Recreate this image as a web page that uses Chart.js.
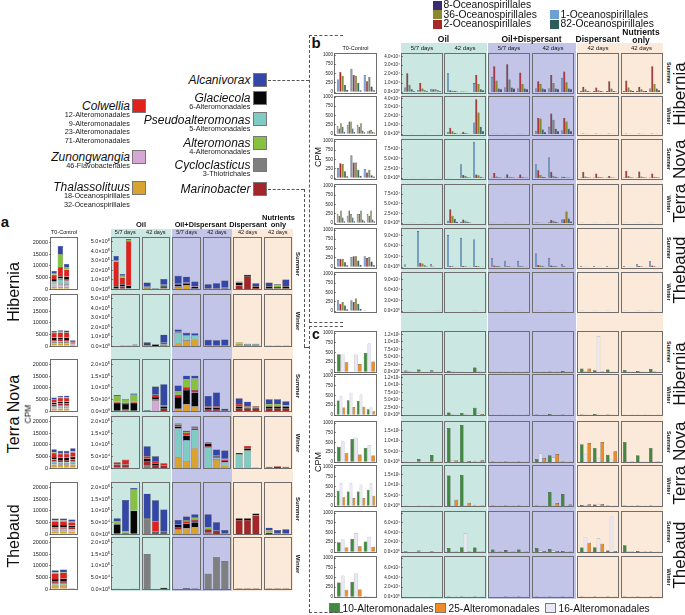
<!DOCTYPE html>
<html>
<head>
<meta charset="utf-8">
<script src="https://cdn.jsdelivr.net/npm/chart.js@4.4.0/dist/chart.umd.min.js"></script>
<style>
  body { margin: 0; background: #fff; font-family: "Liberation Sans", Arial, sans-serif; }
  #fig { position: relative; width: 685px; height: 615px; overflow: hidden; background: #fff; }
  .txt { position: absolute; white-space: nowrap; line-height: 1; color: #111; z-index: 5; }
  .band { position: absolute; z-index: 1; }
  .frame { position: absolute; box-sizing: border-box; border: 1.5px solid #6e6e6e; z-index: 2; }
  .key { position: absolute; box-sizing: border-box; border: 0.6px solid #777; z-index: 5; }
  .dash { position: absolute; z-index: 5; border: 0 dashed #555; }
</style>
</head>
<body>
<div id="fig"></div>
<script>
// ---------------------------------------------------------------
// series / colours
// ---------------------------------------------------------------
// panel a : stack order, bottom -> top
const seriesA = ['Thalassolituus', 'Zunongwangia', 'Cycloclasticus', 'Pseudoalteromonas',
                 'Marinobacter', 'Glaciecola', 'Colwellia', 'Alteromonas', 'Alcanivorax'];
const colorsA = ['#d8a32e', '#d6a7d5', '#7f7f7f', '#80cbc4', '#a3262a', '#070707', '#e0221f', '#86c23f', '#3446a6'];
// panel b : order inside a group
const seriesB = ['1-Oceanospirillales', '2-Oceanospirillales', '36-Oceanospirillales',
                 '82-Oceanospirillales', '8-Oceanospirillales'];
const colorsB = ['#6f9fd3', '#a8282a', '#8c8a2c', '#2f5e58', '#3b2b70'];
// panel c : order inside a group
const seriesC = ['10-Alteromonadales', '16-Alteromonadales', '25-Alteromonadales'];
const colorsC = ['#3f8a3f', '#ebe8f5', '#f08c25'];

// ---------------------------------------------------------------
// tick labels
// ---------------------------------------------------------------
const ticksA_T0  = ['0', '5000', '10000', '15000', '20000'];
const ticksA_Hib = ['0.0×10⁰', '1.0×10⁵', '2.0×10⁵', '3.0×10⁵', '4.0×10⁵', '5.0×10⁵'];
const ticksA_TnTh = ['0.0×10⁰', '5.0×10⁴', '1.0×10⁵', '1.5×10⁵', '2.0×10⁵'];
const ticksB_T0  = ['0', '250', '500', '750', '1000'];
const ticksB_Hib = ['0.0×10⁰', '1.0×10⁴', '2.0×10⁴', '3.0×10⁴', '4.0×10⁴'];
const ticksB_Tn  = ['0.0×10⁰', '2.5×10⁴', '5.0×10⁴', '7.5×10⁴'];
const ticksB_Th  = ['0.0×10⁰', '3.0×10⁴', '6.0×10⁴', '9.0×10⁴'];
const ticksC_Hib = ['0.0×10⁰', '2.5×10⁴', '5.0×10⁴', '7.5×10⁴', '1.0×10⁵', '1.2×10⁵'];
const ticksC_Tn  = ['0.0×10⁰', '5.0×10⁴', '1.0×10⁵', '1.5×10⁵'];
const ticksC_Th  = ['0.0×10⁰', '2.0×10⁴', '4.0×10⁴', '6.0×10⁴'];

// ---------------------------------------------------------------
// DATA
// each row: [T0, Oil 5/7, Oil 42, Oil+Disp 5/7, Oil+Disp 42, Disp 42, Nutrients 42]
// T0 in CPM (panel a: thousands), treatments in units of the axis exponent
// ---------------------------------------------------------------
// panel a bars: [Thal, Zun, Cyclo, Pseudo, Marino, Glacie, Colw, Altero, Alcani]
const aHibSummer = [
  [[1,.5,.3,1,.5,1,1.8,.5,1.1], [1,1,.5,1.5,.5,1,4,5.5,3.5], [1,.8,.3,1.5,.7,1,3,1,1.5], [0,0,0,0,0,0,0,0,0]],
  [[0,0,0,0,.1,.2,2.6,.1,.5], [0,0,0,0,.3,.2,.7,.2,.2], [.05,0,0,0,0,.3,4.7,.15,.1], [0,0,0,0,0,0,0,0,0]],
  [[.1,.1,0,0,0,.05,0,0,.45], [0,0,0,0,0,.02,0,0,.05], [.05,0,0,0,.2,.1,.1,0,.6]],
  [[.2,0,.1,0,0,.2,.1,0,.8], [.4,0,0,0,0,.2,.1,0,.6], [0,0,.1,0,0,.15,.05,0,.5]],
  [[0,0,.05,0,0,.05,0,0,.4], [0,0,.05,0,0,.05,0,0,.5], [0,0,.05,0,0,.1,0,0,.75]],
  [[0,0,0,0,.4,.3,0,0,.1], [0,0,0,0,1.3,.2,0,0,0], [0,0,0,0,.1,.2,0,0,.3]],
  [[0,0,.1,0,0,.2,0,0,.4], [0,0,.05,0,0,.15,0,.2,.1], [0,0,.1,0,0,.2,0,0,.7]]
];
const aHibWinter = [
  [[1,.3,.5,.3,.5,1,2,.3,.6], [1,.3,.5,.4,.5,1,2.1,.3,.7], [1,.3,.5,.3,.5,1,2.1,.3,.7], [.5,0,.3,0,.3,.3,.8,0,.3]],
  [[0,0,0,0,0,0,0,0,0], [0,0,0,0,0,.05,0,0,.02], [0,0,0,0,0,.05,0,0,.03], [0,0,0,0,0,.05,0,0,.1]],
  [[.1,0,0,0,0,.1,0,0,.2], [0,0,0,0,0,.15,0,0,.05], [.1,0,0,.05,.1,.1,0,0,.85]],
  [[.3,0,0,1.1,0,.05,.05,0,.25], [.6,0,0,.5,0,.05,0,0,.25], [.7,0,0,.4,0,.05,0,0,.2]],
  [[0,0,.05,0,0,.05,0,0,.55], [0,0,.05,0,0,.05,0,0,.5], [0,0,.05,0,0,.05,0,0,.6]],
  [[.2,0,0,.1,0,0,0,.1,0], [.1,0,0,.1,0,0,0,.05,0], [.1,0,0,.1,0,0,0,.05,0]],
  [[0,0,0,0,0,.03,0,0,.02], [0,0,0,0,0,.03,0,0,.02], [0,0,0,0,0,.03,0,0,.03]]
];
const aTNSummer = [
  [[1,.5,.3,.3,.8,.8,1.3,.2,.6], [1.1,.5,.3,.4,.9,.9,1.5,.2,.7], [1.1,.5,.3,.4,.9,.9,1.5,.2,.8], [0,0,0,0,0,0,0,0,0]],
  [[0,0,0,0,0,.35,.05,.25,.04], [0,0,0,0,.05,.25,.05,.15,.02], [0,0,0,0,0,.35,.05,.3,.05]],
  [[0,0,0,0,0,.02,0,0,.02], [0,.45,0,0,.05,.1,.1,0,.35], [0,0,0,0,.1,.1,.05,0,.9]],
  [[.1,0,0,0,0,.5,.1,.15,.25], [.3,0,0,0,0,.6,.12,.35,.15], [.2,0,0,0,0,.6,.1,.5,.12]],
  [[0,0,0,0,.05,.1,.05,0,.45], [0,0,0,0,.05,.1,.05,0,.6], [0,0,0,0,0,.03,0,0,.07]],
  [[0,0,0,0,.1,.1,.1,0,.25], [0,0,0,0,.1,.05,.05,0,.2], [0,0,0,0,.1,.05,.05,0,.01]],
  [[0,0,0,0,.1,.1,0,.1,.2], [0,0,0,0,.1,.1,0,.1,.2], [0,0,0,0,.1,.1,0,.05,.17]]
];
const aTNWinter = [
  [[1.5,.3,.3,.6,1,1,1.8,.3,1.3], [1.4,.3,.3,.5,.9,1,1.7,.3,1], [1.4,.3,.3,.5,.9,1,1.7,.3,1], [1.5,.3,.3,.6,1,1.1,2,.3,1.4]],
  [[0,0,0,0,.1,.05,.1,0,0], [0,0,0,0,.1,.05,.2,0,.02], [0,0,0,0,0,0,0,0,0]],
  [[0,0,.1,0,.2,.1,.1,0,.44], [0,0,0,0,.1,.1,.1,0,.2], [0,0,0,0,.1,0,.1,0,0]],
  [[.45,0,0,1.25,0,.08,.08,.04,.02], [.3,0,0,.9,0,.2,.1,.05,.05], [.85,0,0,.8,0,.05,.05,0,.03]],
  [[0,0,0,.9,.05,.1,.05,0,.02], [.35,0,.05,.05,0,.05,.05,0,.25], [.1,0,0,.15,0,.05,.05,.05,.35]],
  [[0,0,0,.6,0,.05,0,0,0], [0,0,0,.75,0,.1,.1,0,0], [0,0,0,.02,0,0,0,0,0]],
  [[0,0,0,0,0,.03,.02,0,0], [0,0,0,0,0,.04,.04,0,0], [0,0,0,0,0,.03,.02,0,0]]
];
const aThSummer = [
  [[1.2,.4,.3,.4,.6,1,1.6,.3,.9], [1.2,.4,.3,.4,.6,1,1.6,.3,.9], [1.1,.4,.3,.4,.5,.9,1.5,.2,.9]],
  [[0,0,0,0,0,.42,0,.14,.12], [0,0,0,0,0,.05,0,.06,1.35], [0,0,0,0,0,1.0,0,.93,.05]],
  [[0,0,.65,0,0,.03,0,0,1.05], [0,0,0,0,.05,.05,.45,0,.9], [0,0,0,0,.05,.05,0,0,.95]],
  [[.2,0,0,0,.1,.1,0,0,.2], [.25,0,0,0,0,.2,.1,.05,.15], [.3,0,0,0,0,.2,.1,.1,.15]],
  [[0,0,.05,0,.15,0,0,.1,.55], [0,0,0,0,.1,.05,0,0,.35], [0,0,0,0,.02,0,0,0,.15]],
  [[0,0,0,0,.6,.08,0,0,0], [0,0,0,0,.6,.08,0,0,0], [0,0,0,0,.8,.08,0,0,0]],
  [[0,0,0,0,0,.05,0,.1,.12], [0,0,0,0,0,.02,0,0,.15], [0,0,0,0,0,.02,0,0,.18]]
];
const aThWinter = [
  [[1.3,.3,.3,.4,.8,1.2,2.5,.3,1], [1.3,.3,.3,.4,.8,1.3,2.6,.3,1.1], [0,.3,0,0,0,0,0,0,0]],
  [[0,0,0,0,0,.02,0,0,0], [0,0,0,0,0,0,0,0,0], [0,0,0,0,0,.02,0,0,0]],
  [[0,0,1.5,0,0,0,0,0,0], [0,0,0,0,0,0,0,0,0], [0,0,0,0,0,.05,0,0,0]],
  [[0,0,0,0,0,0,0,0,0], [0,0,0,0,0,.03,0,0,0], [0,0,0,0,0,.02,0,0,0]],
  [[0,0,.66,0,0,0,0,0,0], [0,0,1.36,0,0,0,0,0,0], [0,0,1.2,0,0,0,0,0,0]],
  [[0,0,0,0,0,.02,0,0,0], [0,0,0,0,0,.02,0,0,0], [0,0,0,0,0,.02,0,0,0]],
  [[0,0,0,0,0,.02,0,0,0], [0,0,0,0,0,.02,0,0,0], [0,0,0,0,0,.02,0,0,0]]
];

// panel b groups: [1-, 2-, 36-, 82-, 8-Oceanospirillales]
const bHibSummer = [
  [[350,560,450,200,60], [650,470,450,250,50], [470,300,420,150,50]],
  [[.5,2.1,.8,.3,.1], [.2,1.0,.4,.2,.1], [.3,.3,.3,.2,.1]],
  [[2.1,.2,.15,.1,.05], [.05,.05,.05,.02,0], [1.0,1.9,.9,.3,.2]],
  [[1.7,2.9,1.3,.4,.3], [.5,3.1,1.4,.5,.4], [.4,2.2,.9,.4,.3]],
  [[.4,1.2,.9,.4,.3], [.4,1.9,1.0,.4,.3], [1.6,2.3,1.1,.4,.3]],
  [[.1,.6,.3,.1,.05], [.1,.5,.2,.1,.05], [.1,1.2,.4,.1,.05]],
  [[.1,1.3,.5,.2,.1], [.1,.6,.3,.1,.1], [.4,2.9,.9,.4,.2]]
];
const bHibWinter = [
  [[220,150,300,200,60], [250,350,350,150,60], [250,200,300,100,50], [80,100,120,60,40]],
  [[.02,.02,.02,.01,0], [.02,.02,.02,.01,0], [.02,.02,.02,.01,0]],
  [[.2,.7,.3,.1,.05], [.05,.25,.15,.05,0], [1.3,3.9,2.4,.8,.3]],
  [[.02,.02,.02,.01,0], [.02,.02,.02,.01,0], [.02,.02,.02,.01,0]],
  [[.3,1.8,1.75,.5,.2], [.8,2.3,1.6,.6,.3], [.4,1.8,1.4,.6,.3]],
  [[.03,.05,.03,.02,.01], [.03,.05,.03,.02,.01], [.03,.05,.03,.02,.01]],
  [[.03,.05,.03,.02,.01], [.03,.05,.03,.02,.01], [.03,.05,.03,.02,.01]]
];
const bTNSummer = [
  [[280,410,390,190,50], [630,430,430,230,60], [250,150,230,80,40]],
  [[.05,.1,.05,.03,.02], [.05,.05,.03,.02,.01], [.05,.05,.03,.02,.01]],
  [[.05,.05,.03,.02,.01], [3.6,.8,.5,.2,.1], [9.4,.9,.7,.3,.1]],
  [[.1,1.3,.4,.2,.1], [.1,1.0,.3,.2,.1], [.1,.9,.3,.1,.1]],
  [[3.6,2.0,.8,.3,.2], [5.3,1.6,.6,.3,.1], [.3,.3,.2,.1,.05]],
  [[.1,1.6,.4,.2,.1], [.1,1.2,.3,.2,.1], [.1,.5,.2,.1,.05]],
  [[.1,1.9,.5,.2,.1], [.1,1.7,.4,.2,.1], [.1,1.2,.3,.2,.1]]
];
const bTNWinter = [
  [[250,200,350,150,50], [200,350,250,150,50], [250,250,350,100,50], [250,200,350,100,50]],
  [[.05,.05,.03,.02,.01], [.05,.05,.03,.02,.01], [.05,.05,.03,.02,.01]],
  [[.6,3.6,1.9,1.1,.3], [.3,.9,.6,.3,.1], [0,0,0,0,0]],
  [[.05,.05,.03,.02,.01], [.05,.05,.03,.02,.01], [.05,.05,.03,.02,.01]],
  [[.1,.1,.05,.05,0], [.2,.8,.5,.3,.1], [.9,1.0,3.0,1.2,.4]],
  [[.05,.05,.03,.02,.01], [.05,.05,.03,.02,.01], [.05,.05,.03,.02,.01]],
  [[.05,.08,.03,.02,.01], [.05,.08,.03,.02,.01], [.05,.08,.03,.02,.01]]
];
const bThSummer = [
  [[220,230,230,130,50], [280,300,300,180,60], [300,250,280,150,50]],
  [[.7,.1,.1,.05,.05], [10.2,1.2,1.0,.5,.2], [.8,.2,.1,.1,.05]],
  [[9.1,.3,.2,.1,.1], [8.3,.3,.2,.1,.1], [7.8,.3,.2,.1,.1]],
  [[2.5,.4,.3,.2,.1], [1.8,.2,.2,.1,.05], [1.6,.2,.2,.1,.05]],
  [[3.8,.6,.4,.2,.1], [2.5,.4,.3,.2,.1], [.8,.2,.1,.1,.05]],
  [[.2,.1,.05,.05,0], [.2,.1,.05,.05,0], [.2,.1,.05,.05,0]],
  [[.2,.1,.1,.05,0], [.8,.3,.2,.1,.05], [1.6,.4,.2,.1,.1]]
];
const bThWinter = [
  [[300,200,250,150,50], [300,250,350,200,60], [20,10,10,5,5]],
  [[.05,.05,.03,.02,.01], [0,0,0,0,0], [.05,.05,.03,.02,.01]],
  [[0,0,0,0,0], [0,0,0,0,0], [.05,.05,.03,.02,.01]],
  [[0,0,0,0,0], [.05,.05,.03,.02,.01], [.05,.05,.03,.02,.01]],
  [[.05,.05,.03,.02,.01], [.05,.05,.03,.02,.01], [.05,.05,.03,.02,.01]],
  [[.05,.05,.03,.02,.01], [.05,.05,.03,.02,.01], [.05,.05,.03,.02,.01]],
  [[.05,.05,.03,.02,.01], [.05,.05,.03,.02,.01], [.05,.05,.03,.02,.01]]
];

// panel c groups: [10-, 16-, 25-Alteromonadales]
const cHibSummer = [
  [[470,465,255], [0,465,210], [500,750,280]],
  [[.5,.3,.1], [.8,.2,.1], [.6,.2,.1]],
  [[.4,.3,.1], [.1,.1,0], [1.5,.3,.1]],
  [[.1,.1,.05], [.1,.1,.05], [.1,.1,.05]],
  [[.1,.1,.05], [.15,.1,.05], [.3,.2,.1]],
  [[1.2,.3,1.2], [.6,12.0,.2], [.8,.2,.1]],
  [[.7,.2,.1], [.3,.2,.1], [1.0,.3,.1]]
];
const cHibWinter = [
  [[380,510,200], [390,590,210], [370,540,220], [150,220,100]],
  [[.1,.1,.05], [.1,.1,.05], [.1,.1,.05]],
  [[.8,.3,.1], [.7,.3,.1], [2.4,.5,.3]],
  [[.1,.1,.05], [.1,.1,.05], [.1,.1,.05]],
  [[.2,.1,.1], [.3,.1,.1], [.2,.1,.1]],
  [[.2,.2,.1], [.3,.2,.1], [.2,.2,.1]],
  [[.1,.1,.05], [.1,.1,.05], [.1,.1,.05]]
];
const cTNSummer = [
  [[400,540,240], [610,650,200], [370,440,170]],
  [[.2,.1,.1], [1.4,.1,.1], [3.4,.2,.2]],
  [[16.4,.8,.9], [17.8,.6,.5], [.3,.2,.8]],
  [[.3,.1,.1], [.2,.1,.1], [.3,.1,.1]],
  [[1.5,4.1,1.9], [3.3,2.3,3.8], [.2,.1,.1]],
  [[8.6,4.0,9.1], [6.8,2.0,9.6], [3.5,1.5,5.2]],
  [[9.7,.2,.2], [3.3,.2,.1], [6.8,.2,.2]]
];
const cTNWinter = [
  [[400,600,230], [380,600,210], [380,570,210], [430,600,270]],
  [[.2,.1,.1], [.2,.1,.1], [.2,.1,.1]],
  [[14.7,.4,3.0], [14.9,.3,1.6], [.3,.2,.2]],
  [[.2,.1,.1], [.2,.1,.1], [.2,.1,.1]],
  [[.2,.1,.1], [6.7,.2,1.4], [5.8,.3,.7]],
  [[.5,.6,.8], [.7,1.1,1.0], [.2,.1,.1]],
  [[.2,.1,.1], [.2,.1,.1], [.2,.1,.1]]
];
const cThSummer = [
  [[260,340,120], [350,500,150], [280,400,140]],
  [[.2,.1,.05], [.3,.1,.05], [.2,.1,.05]],
  [[.8,.1,.1], [1.0,3.9,.1], [.9,.2,.1]],
  [[.5,.2,.1], [.4,.2,.1], [.5,.2,.1]],
  [[.8,.3,.2], [.6,.3,.2], [.2,.1,.1]],
  [[.9,3.1,1.9], [1.0,2.8,1.7], [.3,7.3,.2]],
  [[1.4,.2,.1], [.2,.1,.1], [.1,.05,.05]]
];
const cThWinter = [
  [[380,570,190], [400,630,200], [20,20,10]],
  [[.1,.05,.05], [0,0,0], [.1,.05,.05]],
  [[.1,.05,.05], [.1,.05,.05], [.1,.05,.05]],
  [[0,0,0], [.1,.05,.05], [.1,.05,.05]],
  [[.1,.05,.05], [.1,.05,.05], [.1,.05,.05]],
  [[.1,.05,.05], [.1,.05,.05], [.1,.05,.05]],
  [[.1,.05,.05], [.1,.05,.05], [.1,.05,.05]]
];

// ---------------------------------------------------------------
// helpers
// ---------------------------------------------------------------
const fig = document.getElementById('fig');
const FONT = '"Liberation Sans", Arial, sans-serif';
const TEAL = '#cbe7e1', LAV = '#c3c5e8', PEACH = '#fbead9';

function text(str, x, y, css, anchor, rot) {
  const d = document.createElement('div');
  d.className = 'txt';
  d.textContent = str;
  d.style.cssText += css;
  d.style.left = x + 'px';
  d.style.top = y + 'px';
  const tx = anchor === 'r' ? '-100%' : anchor === 'l' ? '0' : '-50%';
  d.style.transform = 'translate(' + tx + ',-50%)' + (rot ? ' rotate(' + rot + 'deg)' : '');
  fig.appendChild(d);
}

function rect(cls, x, y, w, h, css) {
  const d = document.createElement('div');
  d.className = cls;
  d.style.cssText += 'left:' + x + 'px;top:' + y + 'px;width:' + w + 'px;height:' + h + 'px;' + (css || '');
  fig.appendChild(d);
  return d;
}

function dashH(x1, x2, y) { rect('dash', x1, y, x2 - x1, 0, 'border-top-width:1px;'); }
function dashV(x, y1, y2) { rect('dash', x, y1, 0, y2 - y1, 'border-left-width:1px;'); }

// one facet cell drawn by Chart.js
function cell(x, y, w, h, bars, series, colors, kind, scale, axisW, fs, bg) {
  rect('frame', x, y, w, h, 'background:' + bg + ';');
  const inset = 1.6;
  const cw = Math.round(w - 2 * inset + axisW);
  const ch = Math.round(h - 2 * inset + 10);
  const cv = document.createElement('canvas');
  cv.width = cw; cv.height = ch;
  cv.style.cssText = 'position:absolute;z-index:3;left:' + (x + inset - axisW) + 'px;top:' +
                     (y + inset - 5) + 'px;width:' + cw + 'px;height:' + ch + 'px;';
  fig.appendChild(cv);

  const stacked = kind === 'a';
  const datasets = series.map((s, i) => ({
    label: s,
    data: bars.map(b => b[i]),
    backgroundColor: colors[i],
    borderColor: (kind === 'c' && i === 1) ? '#8a8a8a' : '#262626',
    borderWidth: stacked ? 0.35 : 0.45,
    barPercentage: stacked ? 0.88 : 0.95,
    categoryPercentage: stacked ? 0.97 : 0.86
  }));

  new Chart(cv, {
    type: 'bar',
    data: { labels: bars.map((b, i) => String(i + 1)), datasets: datasets },
    options: {
      responsive: false,
      animation: false,
      events: [],
      layout: { padding: { top: 5, bottom: 5, left: 0, right: 0 } },
      plugins: { legend: { display: false }, tooltip: { enabled: false } },
      scales: {
        x: { display: false, stacked: stacked },
        y: {
          display: axisW > 0,
          stacked: stacked,
          min: 0,
          max: scale.max,
          afterFit: function (s) { s.width = axisW; },
          border: { display: false },
          grid: { drawOnChartArea: false, drawTicks: true, tickLength: 2, color: '#444', lineWidth: 0.6 },
          ticks: {
            stepSize: scale.step,
            includeBounds: false,
            autoSkip: false,
            padding: 1,
            color: '#222',
            font: { size: fs, family: FONT },
            callback: function (v) {
              const k = Math.round(v / scale.step);
              return scale.labels[k] !== undefined ? scale.labels[k] : '';
            }
          }
        }
      }
    }
  });
}

// ---------------------------------------------------------------
// panel a layout
// ---------------------------------------------------------------
const aT0 = { max: 21.5, step: 5, labels: ticksA_T0 };
const aRows = [
  { data: aHibSummer, y: 237, tr: { max: 5.3, step: 1, labels: ticksA_Hib }, season: 'Summer' },
  { data: aHibWinter, y: 294, tr: { max: 5.3, step: 1, labels: ticksA_Hib }, season: 'Winter' },
  { data: aTNSummer,  y: 359, tr: { max: 2.15, step: .5, labels: ticksA_TnTh }, season: 'Summer' },
  { data: aTNWinter,  y: 416, tr: { max: 2.15, step: .5, labels: ticksA_TnTh }, season: 'Winter' },
  { data: aThSummer,  y: 482, tr: { max: 2.15, step: .5, labels: ticksA_TnTh }, season: 'Summer' },
  { data: aThWinter,  y: 537, tr: { max: 2.15, step: .5, labels: ticksA_TnTh }, season: 'Winter' }
];
const aColX = [111, 141.5, 172.3, 202.7, 233.3, 263.5];
const aColBg = [TEAL, TEAL, LAV, LAV, PEACH, PEACH];

rect('band', 110.5, 229, 60.5, 362, 'background:' + TEAL);
rect('band', 172, 229, 60.3, 362, 'background:' + LAV);
rect('band', 232.3, 229, 60.7, 362, 'background:' + PEACH);

aRows.forEach(r => {
  cell(49.5, r.y, 28.5, 53, r.data[0], seriesA, colorsA, 'a', aT0, 22, 5.5, '#fff');
  for (let j = 0; j < 6; j++) {
    cell(aColX[j], r.y, 28.5, 53, r.data[j + 1], seriesA, colorsA, 'a', r.tr, j === 0 ? 29 : 0, 5.5, aColBg[j]);
  }
  text(r.season, 297.5, r.y + 26.5, 'font-size:6px;font-weight:bold;', 'c', 90);
});

text('a', 5, 221, 'font-size:15px;font-weight:bold;', 'c');
text('T0-Control', 64, 232.5, 'font-size:5.5px;', 'c');
text('Oil', 141, 225, 'font-size:7.5px;font-weight:bold;', 'c');
text('Oil+Dispersant', 200.5, 225, 'font-size:7.3px;font-weight:bold;', 'c');
text('Dispersant', 248, 225, 'font-size:7.3px;font-weight:bold;', 'c');
text('Nutrients', 278.5, 217.5, 'font-size:7.5px;font-weight:bold;', 'c');
text('only', 278.5, 225, 'font-size:7.5px;font-weight:bold;', 'c');
['5/7 days', '42 days', '5/7 days', '42 days', '42 days', '42 days'].forEach((s, j) => {
  text(s, aColX[j] + 14.25, 233, 'font-size:5.5px;', 'c');
});
text('Hibernia', 14, 292, 'font-size:16px;', 'c', -90);
text('Terra Nova', 14, 414, 'font-size:16px;', 'c', -90);
text('Thebaud', 14, 536, 'font-size:16px;', 'c', -90);
text('CPM', 28, 414, 'font-size:8.5px;', 'c', -90);

// panel a legend
const keyL = [
  { name: 'Colwellia', y: 106, box: 99, color: colorsA[6], subs: ['12-Alteromonadales', '9-Alteromonadales', '23-Alteromonadales', '71-Alteromonadales'] },
  { name: 'Zunongwangia', y: 157, box: 150, color: colorsA[1], subs: ['46-Flavobacteriales'] },
  { name: 'Thalassolituus', y: 187, box: 181, color: colorsA[0], subs: ['18-Oceanospirillales', '32-Oceanospirillales'] }
];
const keyR = [
  { name: 'Alcanivorax', y: 80, box: 73, color: colorsA[8], subs: [] },
  { name: 'Glaciecola', y: 98, box: 91, color: colorsA[5], subs: ['6-Alteromonadales'] },
  { name: 'Pseudoalteromonas', y: 119.5, box: 112, color: colorsA[3], subs: ['5-Alteromonadales'] },
  { name: 'Alteromonas', y: 142.5, box: 136, color: colorsA[7], subs: ['4-Alteromonadales'] },
  { name: 'Cycloclasticus', y: 164.5, box: 158, color: colorsA[2], subs: ['3-Thiotrichales'] },
  { name: 'Marinobacter', y: 189, box: 182, color: colorsA[4], subs: [] }
];
function drawKey(list, xr, xb) {
  list.forEach(k => {
    text(k.name, xr, k.y, 'font-size:12px;font-style:italic;', 'r');
    rect('key', xb, k.box, 14, 14, 'background:' + k.color + ';');
    k.subs.forEach((s, i) => text(s, xr, k.y + 9 + i * 8.7, 'font-size:7.3px;color:#222;', 'r'));
  });
}
drawKey(keyL, 130, 132);
drawKey(keyR, 250.5, 253);

// ---------------------------------------------------------------
// panels b and c layout
// ---------------------------------------------------------------
const bcColX = [401, 444, 488, 532, 577, 620.5];
const bcColBg = [TEAL, TEAL, LAV, LAV, PEACH, PEACH];
rect('band', 401, 43, 85.5, 556, 'background:' + TEAL);
rect('band', 488, 43, 87.5, 556, 'background:' + LAV);
rect('band', 577, 43, 85.5, 556, 'background:' + PEACH);

const t0bc = { max: 1030, step: 250, labels: ticksB_T0 };
const bRows = [
  { data: bHibSummer, y: 53,   tr: { max: 4.15, step: 1, labels: ticksB_Hib }, season: 'Summer' },
  { data: bHibWinter, y: 95.5, tr: { max: 4.15, step: 1, labels: ticksB_Hib }, season: 'Winter' },
  { data: bTNSummer,  y: 139,  tr: { max: 9.6, step: 2.5, labels: ticksB_Tn }, season: 'Summer' },
  { data: bTNWinter,  y: 184,  tr: { max: 9.6, step: 2.5, labels: ticksB_Tn }, season: 'Winter' },
  { data: bThSummer,  y: 228,  tr: { max: 10.5, step: 3, labels: ticksB_Th }, season: 'Summer' },
  { data: bThWinter,  y: 272,  tr: { max: 10.5, step: 3, labels: ticksB_Th }, season: 'Winter' }
];
const cRows = [
  { data: cHibSummer, y: 331, tr: { max: 13, step: 2.5, labels: ticksC_Hib }, season: 'Summer' },
  { data: cHibWinter, y: 374, tr: { max: 13, step: 2.5, labels: ticksC_Hib }, season: 'Winter' },
  { data: cTNSummer,  y: 421, tr: { max: 18.8, step: 5, labels: ticksC_Tn }, season: 'Summer' },
  { data: cTNWinter,  y: 465, tr: { max: 18.8, step: 5, labels: ticksC_Tn }, season: 'Winter' },
  { data: cThSummer,  y: 511, tr: { max: 8, step: 2, labels: ticksC_Th }, season: 'Summer' },
  { data: cThWinter,  y: 556, tr: { max: 8, step: 2, labels: ticksC_Th }, season: 'Winter' }
];

function drawRows(rows, h, series, colors, kind) {
  rows.forEach(r => {
    cell(334, r.y, 43, h, r.data[0], series, colors, kind, t0bc, 13, 4.5, '#fff');
    for (let j = 0; j < 6; j++) {
      cell(bcColX[j], r.y, 42, h, r.data[j + 1], series, colors, kind, r.tr, j === 0 ? 22 : 0, 4.5, bcColBg[j]);
    }
    text(r.season, 667.5, r.y + h / 2, 'font-size:5.5px;font-weight:bold;', 'c', 90);
  });
}
drawRows(bRows, 40.5, seriesB, colorsB, 'b');
drawRows(cRows, 42, seriesC, colorsC, 'c');

// b headers
text('b', 316, 42, 'font-size:15px;font-weight:bold;', 'c');
text('T0-Control', 355.5, 48.5, 'font-size:5.5px;', 'c');
text('Oil', 443.5, 39, 'font-size:8.5px;font-weight:bold;', 'c');
text('Oil+Dispersant', 531.5, 39, 'font-size:8.5px;font-weight:bold;', 'c');
text('Dispersant', 597.5, 39, 'font-size:8.5px;font-weight:bold;', 'c');
text('Nutrients', 641, 32, 'font-size:8.5px;font-weight:bold;', 'c');
text('only', 641, 39.5, 'font-size:8.5px;font-weight:bold;', 'c');
['5/7 days', '42 days', '5/7 days', '42 days', '42 days', '42 days'].forEach((s, j) => {
  text(s, bcColX[j] + 21, 48, 'font-size:6px;', 'c');
});
text('Hibernia', 679, 94, 'font-size:17px;', 'c', -90);
text('Terra Nova', 679, 181, 'font-size:17px;', 'c', -90);
text('Thebaud', 679, 270, 'font-size:17px;', 'c', -90);
text('CPM', 318, 157, 'font-size:9px;', 'c', -90);

// b legend
const bKey = [
  { label: seriesB[4], color: colorsB[4], x: 433, y: 5 },
  { label: seriesB[2], color: colorsB[2], x: 433, y: 14.5 },
  { label: seriesB[1], color: colorsB[1], x: 433, y: 24 },
  { label: seriesB[0], color: colorsB[0], x: 550, y: 14.5 },
  { label: seriesB[3], color: colorsB[3], x: 550, y: 24 }
];
bKey.forEach(k => {
  rect('key', k.x, k.y - 4.5, 9, 9, 'background:' + k.color + ';border:none;');
  text(k.label, k.x + 10.5, k.y, 'font-size:10.3px;', 'l');
});

// c labels
text('c', 316, 334, 'font-size:14px;font-weight:bold;', 'c');
text('Hibernia', 679, 374, 'font-size:17px;', 'c', -90);
text('Terra Nova', 679, 463, 'font-size:17px;', 'c', -90);
text('Thebaud', 679, 555, 'font-size:17px;', 'c', -90);
text('CPM', 318, 462, 'font-size:9px;', 'c', -90);
const cKey = [
  { label: seriesC[0], color: colorsC[0], x: 329 },
  { label: seriesC[2], color: colorsC[2], x: 435 },
  { label: seriesC[1], color: colorsC[1], x: 545 }
];
cKey.forEach(k => {
  rect('key', k.x, 603, 11, 10, 'background:' + k.color + ';');
  text(k.label, k.x + 13.5, 608.5, 'font-size:10.2px;', 'l');
});

// dashed brackets / connectors
dashV(309, 35, 322); dashH(309, 343, 35); dashH(309, 343, 322);
dashV(309, 326, 612); dashH(309, 343, 326); dashH(309, 343, 612);
dashH(268, 309, 79.5);
dashH(268, 303.5, 188.5); dashV(303.5, 188.5, 347); dashH(303.5, 309, 347);
</script>
</body>
</html>
